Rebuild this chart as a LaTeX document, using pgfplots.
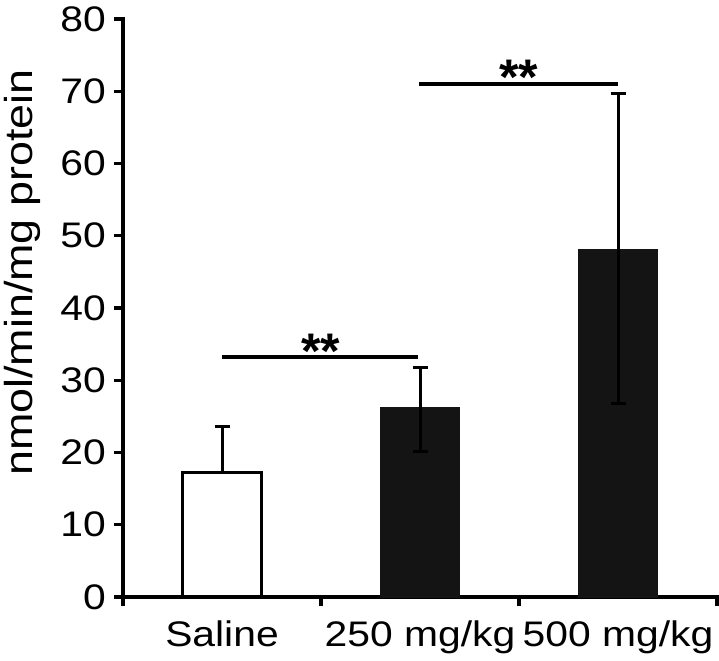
\documentclass[border=0pt]{standalone}
\usepackage{graphicx}
\usepackage{pgfplots}
\usepackage{pgfplotstable}
\pgfplotsset{compat=1.18}
\usepackage{fontspec}
\setmainfont{Liberation Sans}
\newcommand{\sx}[1]{\scalebox{1.15}[1]{#1}}
\definecolor{barfill}{HTML}{141414}
\pgfplotstableread{
x y ep em
0 17.26 6.4 0
}\saline
\pgfplotstableread{
x y ep em
1 26.2 5.6 6.1
2 48.1 21.6 21.3
}\doses
\begin{document}
\begin{tikzpicture}
\begin{axis}[
  scale only axis, width=594pt, height=578pt,
  xmin=-0.5, xmax=2.5, ymin=0, ymax=80,
  axis x line*=bottom, axis y line*=left,
  axis line style={line width=3.8pt, line cap=rect},
  every tick/.style={black, line width=3.3pt},
  tick align=outside, major tick length=9pt,
  xtick={-0.5,0.5,1.5,2.5}, xticklabels={},
  extra x ticks={0,1,2},
  extra x tick labels={\sx{Saline},\sx{250 mg/kg},\sx{500 mg/kg}},
  extra x tick style={major tick length=0pt},
  ytick={0,10,...,80},
  yticklabels={\sx{0},\sx{10},\sx{20},\sx{30},\sx{40},\sx{50},\sx{60},\sx{70},\sx{80}},
  tick label style={font=\fontsize{35.5}{40}\selectfont},
  yticklabel style={inner sep=0pt, xshift=-8pt},
  xticklabel style={inner sep=0pt, yshift=-24pt},
  ylabel={\sx{nmol/min/mg protein}},
  ylabel style={font=\fontsize{39}{44}\selectfont, at={(axis description cs:-0.153,0.561)}, anchor=base, inner sep=0pt},
  clip=false,
]
\addplot[ybar, bar width=0.4, bar shift=0pt, draw=black, line width=3pt, fill=white,
  error bars/.cd, y dir=both, y explicit,
  error bar style={line width=3pt, black},
  error mark options={rotate=90, mark size=7.5pt, line width=3pt, black}]
  table[x=x, y=y, y error plus=ep, y error minus=em] {\saline};
\addplot[ybar, bar width=0.4, bar shift=0pt, draw=barfill, line width=0.5pt, fill=barfill,
  error bars/.cd, y dir=both, y explicit,
  error bar style={line width=3pt, black},
  error mark options={rotate=90, mark size=7.5pt, line width=3pt, black}]
  table[x=x, y=y, y error plus=ep, y error minus=em] {\doses};
\draw[line width=4.5pt] (axis cs:0,33.2) -- (axis cs:0.99,33.2);
\node[anchor=north, inner sep=0pt, font=\bfseries\fontsize{50}{52}\selectfont] at (axis cs:0.5,36.4) {**};
\draw[line width=4.5pt] (axis cs:0.995,71.0) -- (axis cs:2.0,71.0);
\node[anchor=north, inner sep=0pt, font=\bfseries\fontsize{50}{52}\selectfont] at (axis cs:1.5,74.3) {**};
\coordinate (sw) at (rel axis cs:0,0);
\coordinate (ne) at (rel axis cs:1,1);
\end{axis}
\pgfresetboundingbox
\path ([xshift=-123pt,yshift=-64pt]sw) rectangle ([xshift=2pt,yshift=19pt]ne);
\end{tikzpicture}
\end{document}
